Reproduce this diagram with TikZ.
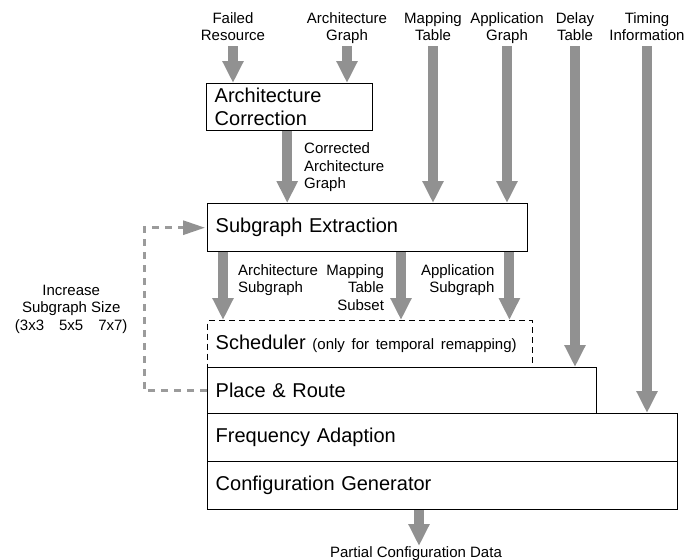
\documentclass[tikz,border=0pt]{standalone}
\usepackage{fontspec}
\setmainfont{Liberation Sans}
\usetikzlibrary{arrows.meta}
\definecolor{arrowgray}{RGB}{145,145,145}
\definecolor{fbgray}{RGB}{155,155,155}
\tikzset{
  blk/.style={draw, line width=1.4pt, anchor=north west, inner xsep=8pt, inner ysep=0pt,
    align=left, font=\fontsize{20}{23}\selectfont},
  lbl/.style={inner sep=0pt, font=\fontsize{15}{17.5}\selectfont},
  bigarrow/.style={draw=arrowgray, line width=10pt, -{Triangle[width=20pt,length=22pt]}},
  fbline/.style={draw=fbgray, line width=3pt, dash pattern=on 7pt off 6pt,
    -{Triangle[width=14pt,length=22pt,color=arrowgray,fill=arrowgray]}, shorten >=2pt},
}
\begin{document}
\begin{tikzpicture}[x=1pt,y=-1pt]
\useasboundingbox (0,0) rectangle (689,560);

% boxes
\node[blk, text width=150pt, minimum height=47pt] (ac) at (206,83) {Architecture\\Correction};
\node[blk, text width=304pt, minimum height=48pt] (se) at (207,203) {Subgraph Extraction};
\node[blk, dash pattern=on 6pt off 4pt, text width=309pt, minimum height=47pt] (sch) at (207,320)
  {Scheduler {\fontsize{15}{17}\selectfont (only for temporal remapping)}};
\node[blk, text width=373pt, minimum height=46pt] (pr) at (207,367) {Place \& Route};
\node[blk, text width=454pt, minimum height=48pt] (fa) at (207,413) {Frequency Adaption};
\node[blk, text width=454pt, minimum height=48pt] (cg) at (207,461) {Configuration Generator};

% top labels
\node[lbl, align=center, anchor=south] (failed) at (233,46) {Failed\\Resource\strut};
\node[lbl, align=center, anchor=south] (archg) at (347,46) {Architecture\\Graph\strut};
\node[lbl, align=center, anchor=south] (mapt) at (433,46) {Mapping\\Table\strut};
\node[lbl, align=center, anchor=south] (appg) at (507,46) {Application\\Graph\strut};
\node[lbl, align=center, anchor=south] (delay) at (575,46) {Delay\\Table\strut};
\node[lbl, align=center, anchor=south] (timing) at (647,46) {Timing\\Information\strut};

% output label
\node[lbl, anchor=north] (out) at (416,546) {Partial Configuration Data};

% input arrows
\draw[bigarrow] (failed.south) -- (failed.south |- ac.north);
\draw[bigarrow] (archg.south) -- (archg.south |- ac.north);
\draw[bigarrow] (mapt.south) -- (mapt.south |- se.north);
\draw[bigarrow] (appg.south) -- (appg.south |- se.north);
\draw[bigarrow] (delay.south) -- (delay.south |- pr.north);
\draw[bigarrow] (timing.south) -- (timing.south |- fa.north);

% corrected architecture graph
\draw[bigarrow] ([xshift=-2.5pt]ac.south) -- ([xshift=-2.5pt]ac.south |- se.north)
  node[lbl, midway, anchor=west, xshift=12pt, align=left] (corr) {Corrected\\Architecture\\Graph};

% subgraph arrows
\draw[bigarrow] ([xshift=16pt]se.south west) -- ([xshift=16pt]se.south west |- sch.north)
  node[lbl, pos=0, anchor=north west, xshift=10pt, yshift=-7pt, align=left] (asub) {Architecture\\Subgraph};
\draw[bigarrow] ([xshift=194pt]se.south west) -- ([xshift=194pt]se.south west |- sch.north)
  node[lbl, pos=0, anchor=north east, xshift=-12pt, yshift=-7pt, align=right] (msub) {Mapping\\Table\\Subset};
\draw[bigarrow] ([xshift=-19pt]se.south east) -- ([xshift=-19pt]se.south east |- sch.north)
  node[lbl, pos=0, anchor=north east, xshift=-10pt, yshift=-7pt, align=right] (apsub) {Application\\Subgraph};

% output arrow
\draw[bigarrow] ([xshift=3pt]out.north |- cg.south) -- ([xshift=3pt]out.north);

% feedback
\draw[fbline] (pr.west) -- ++(-63,0) |-
  node[lbl, pos=0.25, left=15pt, align=center, text=black] (inc)
  {Increase\\Subgraph Size\\(3x3\hspace{15pt}5x5\hspace{15pt}7x7)} (se.west);
\end{tikzpicture}
\end{document}
